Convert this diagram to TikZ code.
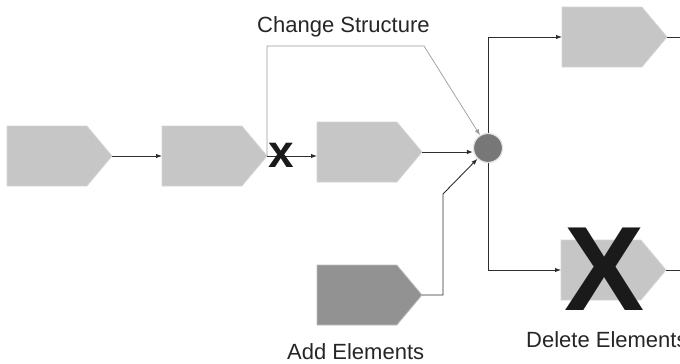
\documentclass[tikz,border=0pt]{standalone}
\usepackage{fontspec}
\setmainfont{Liberation Sans}
\usetikzlibrary{shapes.symbols,arrows.meta}
\definecolor{boxfill}{HTML}{C5C6C5}
\definecolor{boxline}{HTML}{D4D4D4}
\definecolor{addfill}{HTML}{929292}
\definecolor{addline}{HTML}{BDBDBD}
\definecolor{hubfill}{HTML}{777777}
\definecolor{wire}{HTML}{2E2E2E}
\definecolor{graywire}{HTML}{9A9A9A}
\definecolor{crossink}{HTML}{1A1A1A}
\tikzset{
  x=1pt, y=-1pt,
  stepbox/.style={shape=signal, signal to=east, signal from=nowhere,
    signal pointer angle=100, minimum width=105pt, minimum height=60pt,
    inner sep=0pt, outer sep=0pt, fill=boxfill, draw=boxline, line width=0.8pt,
    anchor=west},
  addbox/.style={stepbox, fill=addfill, draw=addline},
  hub/.style={circle, minimum size=29pt, inner sep=0pt, fill=hubfill,
    draw=white!88!black, line width=1.2pt},
  flow/.style={draw=wire, line width=0.9pt, -{Latex[length=6pt,width=4.5pt]}},
  plain/.style={draw=wire, line width=0.9pt},
  restructure/.style={draw=graywire, line width=0.7pt, -{Latex[length=6pt,width=4.5pt]}},
  caption/.style={font=\fontsize{22}{24}\selectfont, inner sep=0pt, text=black!85},
}
\begin{document}
\begin{tikzpicture}
\useasboundingbox (0,0) rectangle (680,364);

% process steps, placed by their left edge
\node[stepbox] (b1) at (7,156) {};
\node[stepbox] (b2) at (162,156) {};
\node[stepbox] (b3) at (317,152) {};
\node[stepbox] (top) at (562,37) {};
\node[stepbox] (bot) at (561,270) {};
\node[addbox] (add) at (317,295) {};

% junction
\node[hub] (c) at (488,148) {};

% free ends and bend points
\coordinate (cs) at (424,46);
\coordinate (ab) at (443,194);
\coordinate (topend) at (680,37);
\coordinate (botend) at (680,270);

% main flow
\draw[flow] (b1.east) -- (b2.west);
\draw[flow] (b2.east) -- (b2.east -| b3.west);
\draw[flow] (b3.east) -- (b3.east -| c.west);
\draw[flow] (add.east) -| (ab) -- (c);
\draw[flow] (c.north) |- (top.west);
\draw[flow] (c.south) |- (bot.west);
\draw[plain] (top.east) -- (topend);
\draw[plain] (bot.east) -- (botend);

% structural change
\draw[restructure] (b2.east) |- (cs) -- (c);

% removed link and removed step
\node[font=\fontsize{46}{46}\selectfont\bfseries, text=crossink, inner sep=0pt] (xs) at (281,155) {x};
\node[font=\fontsize{120}{120}\selectfont\bfseries, text=crossink, inner sep=0pt] (xb) at (605,269) {X};

% labels
\node[caption, anchor=base west] (lcs) at (257,32) {Change Structure};
\node[caption, anchor=base west] (lae) at (287,359) {Add Elements};
\node[caption, anchor=base west] (lde) at (526,347) {Delete Elements};
\end{tikzpicture}
\end{document}
